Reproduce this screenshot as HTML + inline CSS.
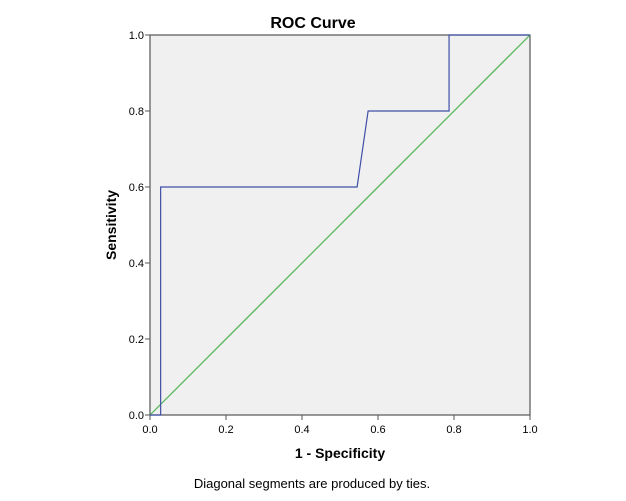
<!DOCTYPE html>
<html><head><meta charset="utf-8"><style>
body{margin:0;background:#fff;}
svg{display:block;font-family:"Liberation Sans",Arial,sans-serif;}
</style></head><body>
<svg width="626" height="501">
<text x="313" y="28" text-anchor="middle" font-size="16" font-weight="bold" fill="#000">ROC Curve</text>
<rect x="150" y="35" width="380" height="380" fill="#f0f0f0" stroke="#555" stroke-width="1.2"/>
<g id="ticks"></g>
<line id="diag" stroke="#4bb551" stroke-width="1.2"/>
<polyline id="roc" fill="none" stroke="#3f4fa8" stroke-width="1.2"/>
<text x="340" y="458" text-anchor="middle" font-size="14" font-weight="bold">1 - Specificity</text>
<text transform="translate(116,225) rotate(-90)" text-anchor="middle" font-size="14" font-weight="bold">Sensitivity</text>
<text x="312" y="488" text-anchor="middle" font-size="13">Diagonal segments are produced by ties.</text>
</svg>
<script>
const fprValues=[0,0.028,0.028,0.545,0.574,0.787,0.787,1];
const tprValues=[0,0,0.6,0.6,0.8,0.8,1,1];
const tickValues=[0,0.2,0.4,0.6,0.8,1.0];
const tickLabels=["0.0","0.2","0.4","0.6","0.8","1.0"];
const X0=150,X1=530,Y0=415,Y1=35;
const sx=v=>X0+v*(X1-X0), sy=v=>Y0-v*(Y0-Y1);
const NS="http://www.w3.org/2000/svg";
const g=document.getElementById('ticks');
tickValues.forEach((v,i)=>{
  let l=document.createElementNS(NS,'line');
  l.setAttribute('x1',sx(v));l.setAttribute('x2',sx(v));l.setAttribute('y1',Y0);l.setAttribute('y2',Y0+5);l.setAttribute('stroke','#555');
  
  
  g.appendChild(l);
  let t=document.createElementNS(NS,'text');
  t.setAttribute('x',sx(v));t.setAttribute('y',Y0+18);t.setAttribute('text-anchor','middle');t.setAttribute('font-size','11');t.textContent=tickLabels[i];
  
  
  g.appendChild(t);
  let l2=document.createElementNS(NS,'line');
  l2.setAttribute('x1',X0-5);l2.setAttribute('x2',X0);l2.setAttribute('y1',sy(v));l2.setAttribute('y2',sy(v));l2.setAttribute('stroke','#555');
  
  
  g.appendChild(l2);
  let t2=document.createElementNS(NS,'text');
  t2.setAttribute('x',X0-6);t2.setAttribute('y',sy(v)+4);t2.setAttribute('text-anchor','end');t2.setAttribute('font-size','11');t2.textContent=tickLabels[i];
  
  
  g.appendChild(t2);
});
const d=document.getElementById('diag');
d.setAttribute('x1',sx(0));d.setAttribute('y1',sy(0));d.setAttribute('x2',sx(1));d.setAttribute('y2',sy(1));
document.getElementById('roc').setAttribute('points',fprValues.map((f,i)=>sx(f)+','+sy(tprValues[i])).join(' '));
</script>
</body></html>
